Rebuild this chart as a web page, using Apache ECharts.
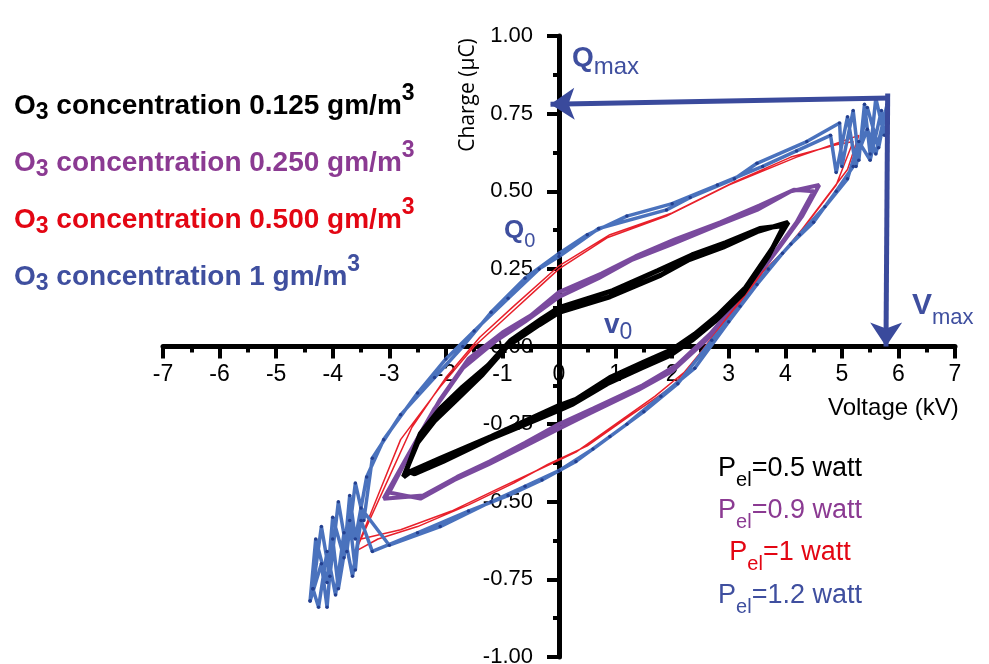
<!DOCTYPE html>
<html>
<head>
<meta charset="utf-8">
<script src="https://cdn.jsdelivr.net/npm/echarts@6/dist/echarts.min.js"></script>
<style>
  html, body { margin: 0; padding: 0; background: #fff; }
  #chart { width: 989px; height: 664px; }
</style>
</head>
<body>
<div id="chart"></div>
<script>
// Q-V loops (voltage kV, charge uC), two cycles each
var blackV1 = [-2.75, -2.5, -2.2, -1.8, -1.35, -0.92, -0.35, 0, 0.9, 1.8, 2.3, 2.9, 3.5, 4.05, 3.75, 3.3, 2.8, 2.4, 2.0, 1.5, 0.9, 0.3, 0, -0.6, -1.2, -2.1, -2.6, -2.75];
var blackQ1 = [-0.42, -0.31, -0.24, -0.17, -0.09, 0.0, 0.07, 0.11, 0.16, 0.23, 0.28, 0.32, 0.37, 0.40, 0.31, 0.19, 0.10, 0.04, -0.01, -0.05, -0.10, -0.17, -0.19, -0.24, -0.29, -0.36, -0.40, -0.42];
var blackV2 = [-2.7, -2.45, -2.1, -1.7, -1.25, -0.85, -0.3, 0, 0.95, 1.75, 2.35, 2.95, 3.55, 3.98, 3.7, 3.25, 2.75, 2.35, 1.95, 1.45, 0.85, 0.25, 0, -0.65, -1.25, -2.05, -2.55, -2.7];
var blackQ2 = [-0.40, -0.28, -0.20, -0.13, -0.06, 0.02, 0.09, 0.125, 0.18, 0.245, 0.295, 0.335, 0.38, 0.39, 0.29, 0.17, 0.08, 0.02, -0.03, -0.07, -0.12, -0.185, -0.205, -0.255, -0.30, -0.37, -0.41, -0.40];

var purpleV1 = [-3.1, -2.7, -2.2, -1.7, -1.1, -0.6, 0, 0.7, 1.3, 2.0, 2.8, 3.5, 4.1, 4.6, 4.3, 3.9, 3.4, 3.0, 2.67, 2.08, 1.48, 0.6, 0, -0.6, -1.22, -1.8, -2.4, -3.1];
var purpleQ1 = [-0.49, -0.36, -0.20, -0.07, 0.02, 0.08, 0.16, 0.22, 0.28, 0.33, 0.39, 0.44, 0.50, 0.52, 0.42, 0.32, 0.20, 0.11, 0.04, -0.06, -0.125, -0.20, -0.25, -0.31, -0.37, -0.42, -0.48, -0.49];
var purpleV2 = [-3.0, -2.6, -2.1, -1.6, -1.0, -0.5, 0, 0.75, 1.35, 2.05, 2.85, 3.55, 4.15, 4.5, 4.2, 3.8, 3.35, 2.95, 2.6, 2.0, 1.4, 0.55, 0, -0.65, -1.25, -1.85, -2.45, -3.0];
var purpleQ2 = [-0.47, -0.33, -0.17, -0.04, 0.045, 0.10, 0.175, 0.235, 0.29, 0.345, 0.40, 0.455, 0.505, 0.50, 0.40, 0.30, 0.18, 0.09, 0.02, -0.08, -0.14, -0.215, -0.265, -0.325, -0.38, -0.43, -0.49, -0.47];

var redV1 = [-3.6, -3.2, -2.8, -2.1, -1.5, -0.9, -0.3, 0, 0.85, 1.9, 3.0, 4.2, 5.0, 5.3, 5.1, 4.6, 4.1, 3.6, 3.0, 2.5, 2.0, 1.2, 0.5, -0.2, -0.8, -1.6, -2.5, -3.2, -3.6];
var redQ1 = [-0.66, -0.48, -0.30, -0.13, 0.0, 0.10, 0.20, 0.25, 0.35, 0.42, 0.52, 0.61, 0.66, 0.68, 0.57, 0.45, 0.33, 0.24, 0.10, -0.02, -0.13, -0.23, -0.32, -0.38, -0.44, -0.51, -0.58, -0.62, -0.66];
var redV2 = [-3.5, -3.0, -2.6, -2.0, -1.4, -0.8, 0, 0.9, 2.0, 3.1, 4.1, 4.9, 5.2, 4.9, 4.4, 3.9, 3.4, 2.9, 2.3, 1.7, 1.0, 0.3, -0.4, -1.1, -1.9, -2.8, -3.5];
var redQ2 = [-0.62, -0.42, -0.26, -0.10, 0.03, 0.13, 0.26, 0.36, 0.43, 0.53, 0.61, 0.65, 0.66, 0.52, 0.40, 0.29, 0.19, 0.06, -0.07, -0.16, -0.25, -0.34, -0.40, -0.46, -0.53, -0.59, -0.62];

var blueV1 = [-4.4, -4.3, -4.1, -4.0, -3.8, -3.7, -3.6, -3.4, -3.1, -2.5, -2.0, -1.5, -0.9, -0.35, 0, 0.7, 1.9, 2.32, 3.1, 3.5, 4.38, 4.96, 5.0, 5.2, 5.3, 5.4, 5.5, 5.6, 5.75, 5.7, 5.5, 5.3, 5.1, 4.7, 4.25, 3.95, 3.5, 3.0, 2.4, 1.8, 1.2, 0.6, 0, -0.6, -1.2, -2.1, -3.0, -3.5, -3.6, -3.7, -3.9, -4.0, -4.1, -4.2, -4.4];
var blueQ1 = [-0.82, -0.62, -0.76, -0.55, -0.68, -0.48, -0.62, -0.42, -0.30, -0.15, -0.04, 0.05, 0.155, 0.25, 0.29, 0.38, 0.44, 0.48, 0.54, 0.59, 0.66, 0.72, 0.58, 0.76, 0.60, 0.78, 0.62, 0.80, 0.68, 0.76, 0.60, 0.66, 0.54, 0.45, 0.36, 0.30, 0.20, 0.08, -0.07, -0.16, -0.25, -0.33, -0.40, -0.45, -0.50, -0.58, -0.64, -0.52, -0.72, -0.56, -0.78, -0.62, -0.84, -0.70, -0.82];
var blueV2 = [-4.35, -4.2, -4.05, -3.9, -3.75, -3.6, -3.45, -3.3, -2.8, -2.2, -1.7, -1.2, -0.6, 0, 0.5, 1.2, 2.0, 2.8, 3.6, 4.2, 4.8, 4.9, 5.1, 5.25, 5.45, 5.65, 5.8, 5.6, 5.45, 5.2, 4.9, 4.5, 4.1, 3.7, 3.2, 2.7, 2.1, 1.5, 0.9, 0.3, -0.3, -0.9, -1.6, -2.5, -3.3, -3.5, -3.65, -3.8, -3.95, -4.1, -4.25, -4.35];
var blueQ2 = [-0.78, -0.58, -0.74, -0.50, -0.66, -0.44, -0.56, -0.36, -0.22, -0.10, 0.0, 0.11, 0.22, 0.30, 0.36, 0.42, 0.46, 0.52, 0.58, 0.63, 0.68, 0.56, 0.74, 0.58, 0.77, 0.64, 0.78, 0.62, 0.70, 0.58, 0.50, 0.40, 0.33, 0.25, 0.13, 0.02, -0.12, -0.21, -0.29, -0.37, -0.43, -0.48, -0.53, -0.60, -0.66, -0.56, -0.74, -0.60, -0.80, -0.66, -0.84, -0.78];

// arrows: [fromV, fromQ, toV, toQ]
var qmaxArrow = [5.85, 0.80, -0.15, 0.78];
var vmaxArrow = [5.81, 0.815, 5.78, 0.0];

var xTicks = [-7, 7, 1];
var yTicks = [-1, 1, 0.25];

function zip(va, qa) {
	var out = [];
	for (var i = 0; i < va.length; i++) {
		out.push([va[i], qa[i]]);
	}
	return out;
}

var chart = echarts.init(document.getElementById('chart'), null, { renderer: 'canvas' });

var FONT = 'Liberation Sans';
var txtBlue = '#3f4f9f', txtPurple = '#8b3a92', txtRed = '#e30613';

// plot box in pixels, axes are shifted onto the origin with offset
var GRID = { left: 163, right: 34, top: 36, bottom: 7 };
var plotW = 989 - GRID.left - GRID.right;
var plotH = 664 - GRID.top - GRID.bottom;
var yAxisShift = plotW * (0 - xTicks[0]) / (xTicks[1] - xTicks[0]);
var xAxisShift = plotH * (0 - yTicks[0]) / (yTicks[1] - yTicks[0]);

function concLabel(y, conc, color) {
	return {
		type: 'text', x: 14, y: y, z: 10,
		style: {
			text: '{m|O}{s|3}{m| concentration ' + conc + ' gm/m}{p|3}',
			verticalAlign: 'middle', align: 'left', fill: color,
			rich: {
				m: { fontSize: 28, fontWeight: 'bold', fontFamily: FONT, lineHeight: 52, fill: color },
				s: { fontSize: 23, fontWeight: 'bold', fontFamily: FONT, lineHeight: 23, padding: [13, 0, 0, 0], fill: color },
				p: { fontSize: 23, fontWeight: 'bold', fontFamily: FONT, lineHeight: 23, padding: [0, 0, 24, 0], fill: color }
			}
		}
	};
}

function pelLabel(y, val, color) {
	return {
		type: 'text', x: 790, y: y, z: 10,
		style: {
			text: '{m|P}{s|el}{m|=' + val + ' watt}',
			verticalAlign: 'middle', align: 'center', fill: color,
			rich: {
				m: { fontSize: 27, fontFamily: FONT, lineHeight: 44, fill: color },
				s: { fontSize: 20, fontFamily: FONT, lineHeight: 20, padding: [22, 0, 0, 0], fill: color }
			}
		}
	};
}

function subLabel(x, y, big, small, bigSize, smallSize, shift) {
	return {
		type: 'text', x: x, y: y, z: 10,
		style: {
			text: '{m|' + big + '}{s|' + small + '}',
			verticalAlign: 'middle', align: 'left', fill: txtBlue,
			rich: {
				m: { fontSize: bigSize, fontWeight: 'bold', fontFamily: FONT, lineHeight: 50, fill: txtBlue },
				s: { fontSize: smallSize, fontFamily: FONT, lineHeight: smallSize, padding: [shift * 2, 0, 0, 0], fill: txtBlue }
			}
		}
	};
}

var option = {
	animation: false,
	backgroundColor: '#fff',
	grid: { left: GRID.left, right: GRID.right, top: GRID.top, bottom: GRID.bottom, containLabel: false, outerBoundsMode: 'none' },
	xAxis: {
		type: 'value', min: xTicks[0], max: xTicks[1], interval: xTicks[2],
		position: 'bottom', offset: -xAxisShift,
		axisLine: { onZero: false, lineStyle: { color: '#000', width: 5 } },
		axisTick: { length: 12, lineStyle: { color: '#000', width: 4 } },
		minorTick: { show: true, splitNumber: 2, length: 6, lineStyle: { color: '#000', width: 4 } },
		axisLabel: { fontSize: 23, color: '#000', fontFamily: FONT, margin: 17 },
		splitLine: { show: false }
	},
	yAxis: {
		type: 'value', min: yTicks[0], max: yTicks[1], interval: yTicks[2],
		position: 'left', offset: -yAxisShift,
		axisLine: { onZero: false, lineStyle: { color: '#000', width: 5 } },
		axisTick: { length: 12, lineStyle: { color: '#000', width: 4 } },
		minorTick: { show: true, splitNumber: 2, length: 6, lineStyle: { color: '#000', width: 4 } },
		axisLabel: {
			fontSize: 22, color: '#000', fontFamily: FONT, margin: 26,
			formatter: function(v) { return v.toFixed(2); }
		},
		splitLine: { show: false }
	},
	series: [{
		name: 'purple', type: 'line', data: zip(purpleV1, purpleQ1).concat(zip(purpleV2, purpleQ2)),
		showSymbol: false, lineStyle: { color: '#7a4a9e', width: 4 }, z: 2
	}, {
		name: 'red', type: 'line', data: zip(redV1, redQ1).concat(zip(redV2, redQ2)),
		showSymbol: false, lineStyle: { color: '#e8202a', width: 1.5 }, z: 3
	}, {
		name: 'blue', type: 'line', data: zip(blueV1, blueQ1).concat(zip(blueV2, blueQ2)),
		showSymbol: true, symbol: 'circle', symbolSize: 3.5,
		itemStyle: { color: '#233f8f' },
		lineStyle: { color: '#4a72bd', width: 3.5 }, z: 4
	}, {
		name: 'black', type: 'line', data: zip(blackV1, blackQ1).concat(zip(blackV2, blackQ2)),
		showSymbol: false, lineStyle: { color: '#000', width: 5 }, z: 5,
		markLine: {
			silent: true, symbol: ['none', 'arrow'], symbolSize: 24,
			label: { show: false },
			lineStyle: { color: '#3a4a9c', width: 5, type: 'solid' },
			emphasis: { disabled: true },
			data: [
				[{ coord: [qmaxArrow[0], qmaxArrow[1]] }, { coord: [qmaxArrow[2], qmaxArrow[3]] }],
				[{ coord: [vmaxArrow[0], vmaxArrow[1]] }, { coord: [vmaxArrow[2], vmaxArrow[3]] }]
			]
		}
	}],
	graphic: [
		concLabel(106, '0.125', '#000'),
		concLabel(163, '0.250', txtPurple),
		concLabel(220, '0.500', txtRed),
		concLabel(277, '1', txtBlue),
		pelLabel(469, '0.5', '#000'),
		pelLabel(511, '0.9', txtPurple),
		pelLabel(553, '1', txtRed),
		pelLabel(596, '1.2', txtBlue),
		subLabel(572, 58, 'Q', 'max', 28, 24, 9),
		subLabel(504, 231, 'Q', '0', 26, 20, 10),
		subLabel(604, 325, 'v', '0', 28, 23, 8),
		subLabel(912, 306, 'V', 'max', 30, 22, 12),
		{
			type: 'text', x: 828, y: 408, z: 10,
			style: { text: 'Voltage (kV)', fontSize: 24, fontFamily: FONT, fill: '#000', verticalAlign: 'middle', align: 'left' }
		},
		{
			type: 'text', x: 468, y: 95, rotation: Math.PI / 2, z: 10,
			style: { text: 'Charge (\u00b5C)', fontSize: 21, fontFamily: 'Open Sans', fill: '#000', verticalAlign: 'middle', align: 'center' }
		}
	]
};

chart.setOption(option);
</script>
</body>
</html>
